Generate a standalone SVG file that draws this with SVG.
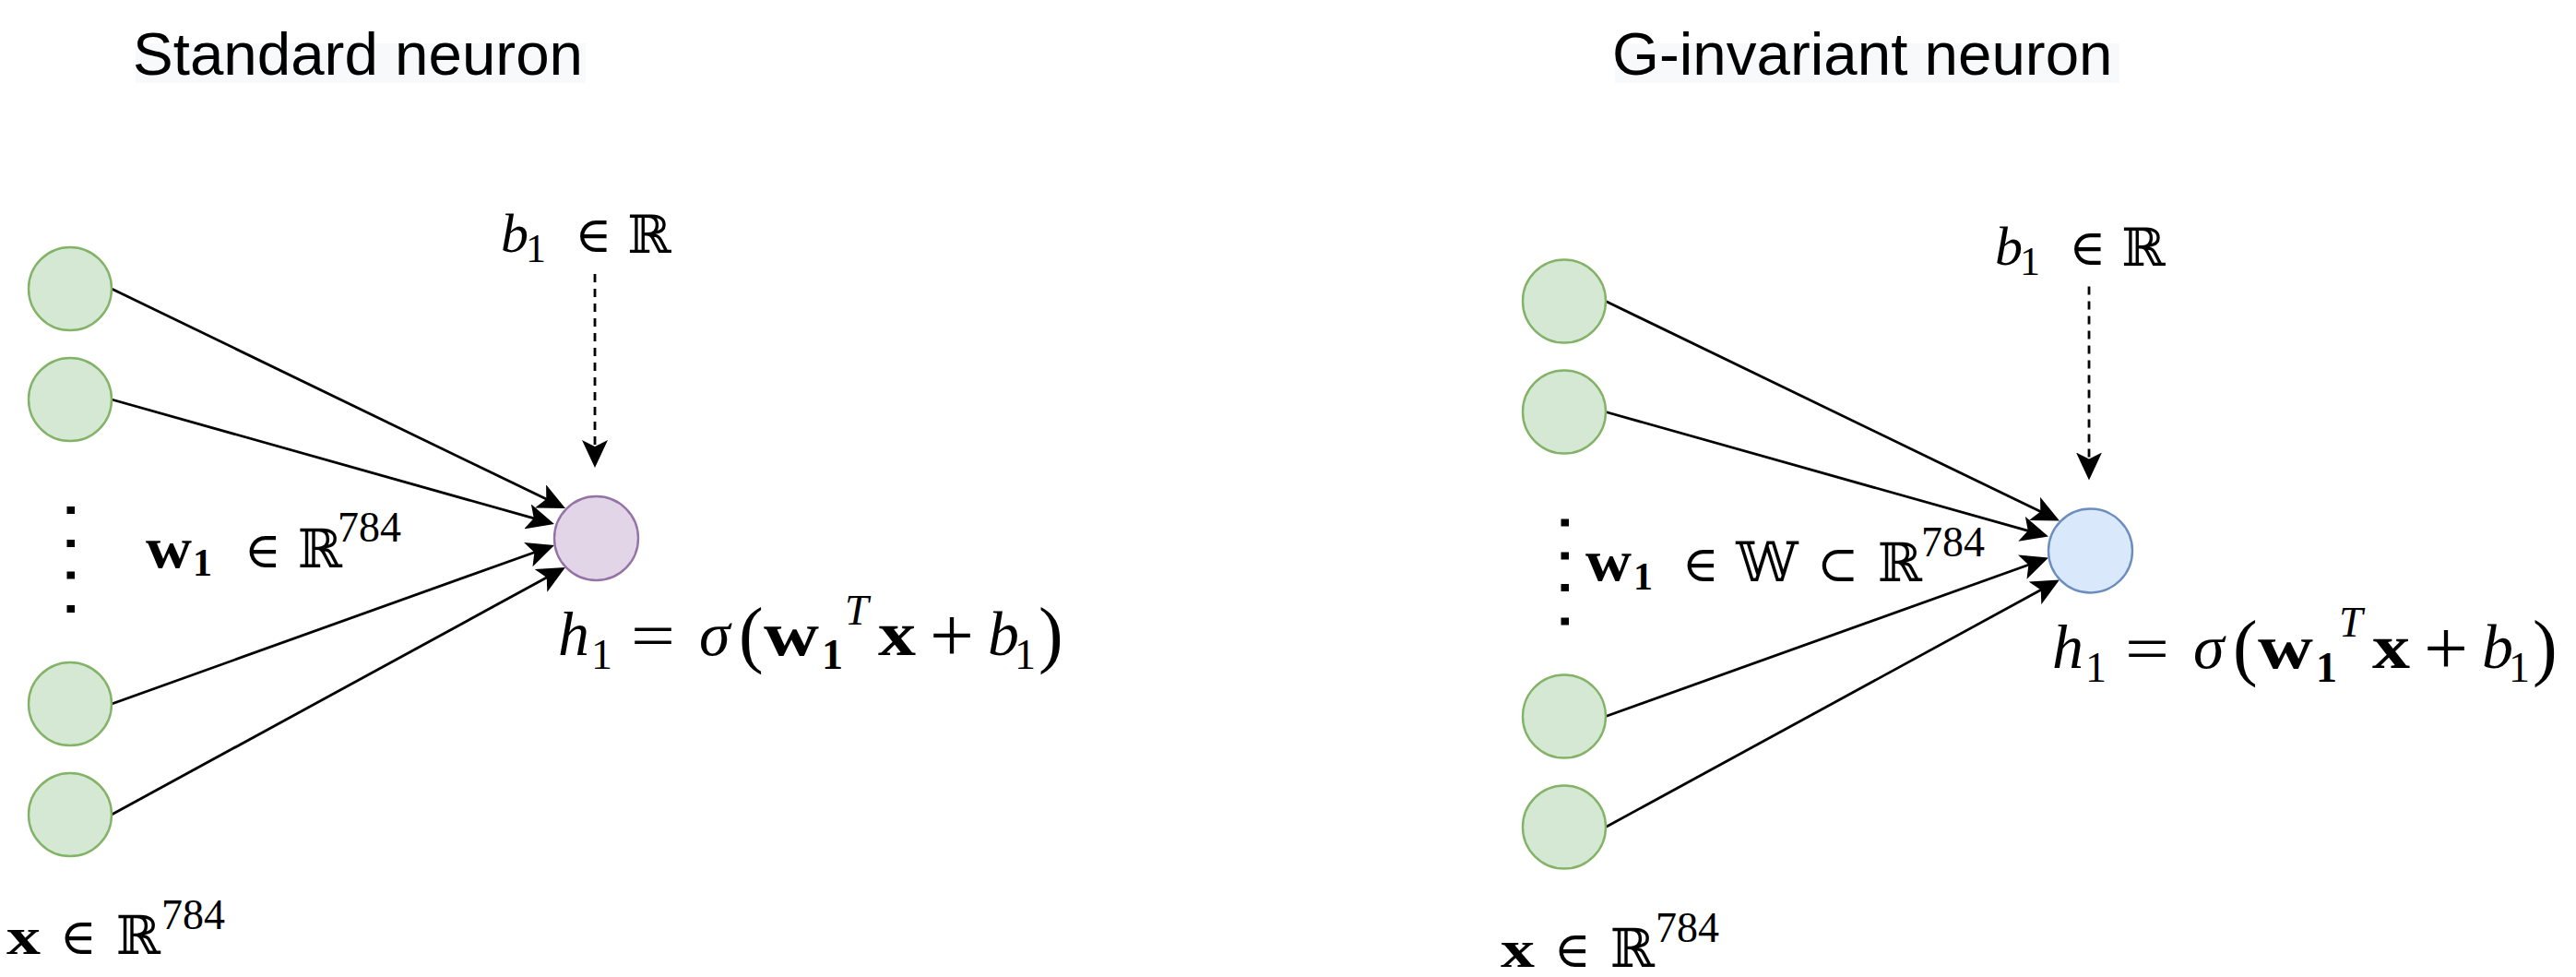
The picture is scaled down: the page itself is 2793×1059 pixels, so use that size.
<svg xmlns="http://www.w3.org/2000/svg" width="2793" height="1059" viewBox="0 0 2793 1059">
<style>
.title{font-family:"Liberation Sans",Arial,sans-serif;font-size:65.5px;fill:#000}
.tbg{fill:#f8f9fa}
.in{fill:#d5e8d4;stroke:#82b366;stroke-width:2.4}
.out1{fill:#e1d5e7;stroke:#9673a6;stroke-width:2.4}
.out2{fill:#dae8fc;stroke:#6c8ebf;stroke-width:2.4}
.edge{fill:none;stroke:#000;stroke-width:2.8;marker-end:url(#arr)}
.dash{stroke-dasharray:9 7}
.dot{fill:#000}
.mi{font-family:"Liberation Serif","Times New Roman",serif;font-style:italic}
.mb{font-family:"Liberation Serif","Times New Roman",serif;font-weight:bold}
.mn{font-family:"Liberation Serif","Times New Roman",serif}
.ms{font-family:"DejaVu Serif","DejaVu Sans",serif;text-anchor:middle}
</style>
<defs>
<marker id="arr" markerUnits="userSpaceOnUse" viewBox="0 0 30 28" refX="10" refY="14" markerWidth="30" markerHeight="28" orient="auto">
<path d="M0,0 L30,14 L0,28 L7,14 Z" fill="#000" stroke="none"/>
</marker>
</defs>
<rect width="2793" height="1059" fill="#fff"/>

<g id="title-standard">
<rect class="tbg" x="147" y="47" width="488" height="43"/>
<text class="title" x="144" y="81">Standard neuron</text>
</g>
<g id="title-ginvariant">
<rect class="tbg" x="1751" y="47" width="547" height="43"/>
<text class="title" x="1748" y="81">G-invariant neuron</text>
</g>

<g id="connectors">
<line class="edge" x1="121" y1="313" x2="595.0" y2="542.3"/>
<line class="edge" x1="121" y1="433" x2="581.7" y2="562.6"/>
<line class="edge" x1="121" y1="763" x2="582.2" y2="597.7"/>
<line class="edge" x1="121" y1="883" x2="595.4" y2="624.6"/>
<line class="edge dash" x1="645" y1="297" x2="645" y2="487"/>
<line class="edge" x1="1741" y1="326.5" x2="2215.0" y2="555.8"/>
<line class="edge" x1="1741" y1="446.5" x2="2201.7" y2="576.1"/>
<line class="edge" x1="1741" y1="776.5" x2="2202.2" y2="611.2"/>
<line class="edge" x1="1741" y1="896.5" x2="2215.4" y2="638.1"/>
<line class="edge dash" x1="2265" y1="310.5" x2="2265" y2="500.5"/>
</g>

<g id="standard">
<g id="input-1"><circle class="in" cx="76" cy="313" r="45"/></g>
<g id="input-2"><circle class="in" cx="76" cy="433" r="45"/></g>
<g id="input-3"><circle class="in" cx="76" cy="763" r="45"/></g>
<g id="input-4"><circle class="in" cx="76" cy="883" r="45"/></g>
<g id="neuron"><circle class="out1" cx="646.5" cy="583.5" r="45.5"/></g>
<g id="dots">
<rect class="dot" x="72.5" y="549" width="8.5" height="8"/>
<rect class="dot" x="72.5" y="585" width="8.5" height="8"/>
<rect class="dot" x="72.5" y="619.5" width="8.5" height="8"/>
<rect class="dot" x="72.5" y="656" width="8.5" height="8"/>
</g>
<g id="bias-label">
<text class="mi" x="543" y="273" font-size="60">b</text>
<text class="mn" x="570" y="284" font-size="44">1</text>
<text class="ms" x="643.5" y="273" font-size="54">∈</text>
<text class="ms" x="704" y="274" font-size="57">ℝ</text>
</g>
<g id="output-label">
<text class="mi" x="605" y="710" font-size="68">h</text>
<text class="mn" x="641" y="725" font-size="46">1</text>
<text class="mn" x="684" y="713" font-size="70" textLength="48" lengthAdjust="spacingAndGlyphs">=</text>
<text class="mi" x="758" y="710" font-size="68">σ</text>
<text class="mn" x="801" y="714" font-size="80">(</text>
<text class="mb" x="828" y="710" font-size="68" textLength="60" lengthAdjust="spacingAndGlyphs">w</text>
<text class="mb" x="891" y="725" font-size="46">1</text>
<text class="mi" x="916" y="676.5" font-size="46">T</text>
<text class="mb" x="952" y="710" font-size="68" textLength="41" lengthAdjust="spacingAndGlyphs">x</text>
<text class="mn" x="1008" y="717" font-size="84" textLength="48" lengthAdjust="spacingAndGlyphs">+</text>
<text class="mi" x="1071" y="710" font-size="68">b</text>
<text class="mn" x="1100" y="725" font-size="46">1</text>
<text class="mn" x="1126" y="714" font-size="80">)</text>
</g>
<g id="input-label">
<text class="mb" x="7" y="1034" font-size="58" textLength="37" lengthAdjust="spacingAndGlyphs">x</text>
<text class="ms" x="85" y="1034" font-size="54">∈</text>
<text class="ms" x="149.7" y="1034" font-size="58">ℝ</text>
<text class="mn" x="175" y="1007" font-size="46">784</text>
</g>
<g id="weights-label">
<text class="mb" x="158" y="614.5" font-size="64" textLength="50" lengthAdjust="spacingAndGlyphs">w</text>
<text class="mb" x="209" y="624" font-size="42">1</text>
<text class="ms" x="285" y="615" font-size="54">∈</text>
<text class="ms" x="346.5" y="615" font-size="58">ℝ</text>
<text class="mn" x="366" y="587" font-size="46">784</text>
</g>
</g>

<g id="ginvariant" transform="translate(1620 13.5)">
<g id="g-input-1"><circle class="in" cx="76" cy="313" r="45"/></g>
<g id="g-input-2"><circle class="in" cx="76" cy="433" r="45"/></g>
<g id="g-input-3"><circle class="in" cx="76" cy="763" r="45"/></g>
<g id="g-input-4"><circle class="in" cx="76" cy="883" r="45"/></g>
<g id="g-neuron"><circle class="out2" cx="646.5" cy="583.5" r="45.5"/></g>
<g id="g-dots">
<rect class="dot" x="72.5" y="549" width="8.5" height="8"/>
<rect class="dot" x="72.5" y="585" width="8.5" height="8"/>
<rect class="dot" x="72.5" y="619.5" width="8.5" height="8"/>
<rect class="dot" x="72.5" y="656" width="8.5" height="8"/>
</g>
<g id="g-bias-label">
<text class="mi" x="543" y="273" font-size="60">b</text>
<text class="mn" x="570" y="284" font-size="44">1</text>
<text class="ms" x="643.5" y="273" font-size="54">∈</text>
<text class="ms" x="704" y="274" font-size="57">ℝ</text>
</g>
<g id="g-output-label">
<text class="mi" x="605" y="710" font-size="68">h</text>
<text class="mn" x="641" y="725" font-size="46">1</text>
<text class="mn" x="684" y="713" font-size="70" textLength="48" lengthAdjust="spacingAndGlyphs">=</text>
<text class="mi" x="758" y="710" font-size="68">σ</text>
<text class="mn" x="801" y="714" font-size="80">(</text>
<text class="mb" x="828" y="710" font-size="68" textLength="60" lengthAdjust="spacingAndGlyphs">w</text>
<text class="mb" x="891" y="725" font-size="46">1</text>
<text class="mi" x="916" y="676.5" font-size="46">T</text>
<text class="mb" x="952" y="710" font-size="68" textLength="41" lengthAdjust="spacingAndGlyphs">x</text>
<text class="mn" x="1008" y="717" font-size="84" textLength="48" lengthAdjust="spacingAndGlyphs">+</text>
<text class="mi" x="1071" y="710" font-size="68">b</text>
<text class="mn" x="1100" y="725" font-size="46">1</text>
<text class="mn" x="1126" y="714" font-size="80">)</text>
</g>
<g id="g-input-label">
<text class="mb" x="7" y="1034" font-size="58" textLength="37" lengthAdjust="spacingAndGlyphs">x</text>
<text class="ms" x="85" y="1034" font-size="54">∈</text>
<text class="ms" x="149.7" y="1034" font-size="58">ℝ</text>
<text class="mn" x="175" y="1007" font-size="46">784</text>
</g>
</g>

<g id="g-weights-label">
<text class="mb" x="1719" y="629" font-size="64" textLength="50" lengthAdjust="spacingAndGlyphs">w</text>
<text class="mb" x="1771" y="639" font-size="42">1</text>
<text class="ms" x="1844" y="630" font-size="54">∈</text>
<text class="ms" x="1916" y="630" font-size="60">𝕎</text>
<text class="ms" x="1992.5" y="630" font-size="54">⊂</text>
<text class="ms" x="2059.7" y="630" font-size="58">ℝ</text>
<text class="mn" x="2083" y="603" font-size="46">784</text>
</g>
</svg>
